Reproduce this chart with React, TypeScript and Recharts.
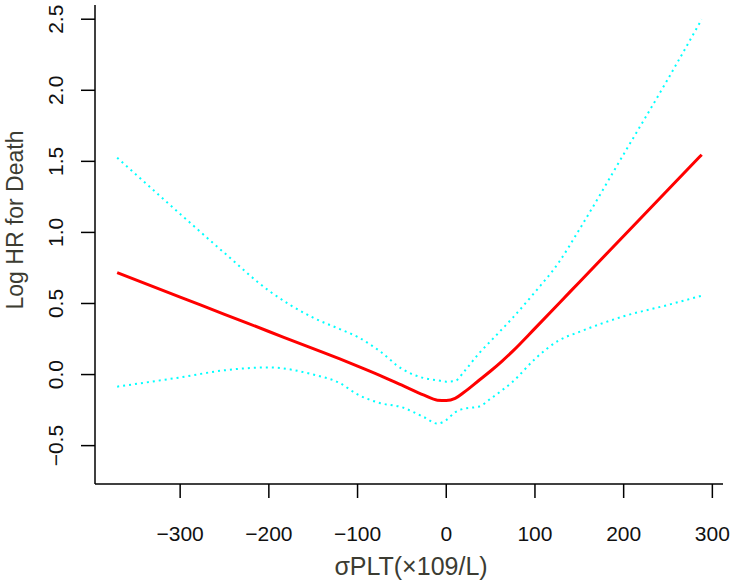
import React from "react"
import { LineChart, Line, XAxis, YAxis } from "recharts"

const xs = [-371, -300, -250, -200, -150, -120, -100, -75, -50, -25, -10, 0, 10, 20, 37, 50, 63, 75, 100, 127, 150, 200, 250, 288]

// log HR estimate
const fit = [0.717, 0.545, 0.424, 0.303, 0.182, 0.11, 0.06, -0.005, -0.075, -0.145, -0.18, -0.183, -0.168, -0.125, -0.04, 0.025, 0.095, 0.165, 0.325, 0.5, 0.65, 0.975, 1.3, 1.547]

// 95% CI bounds
const upper = [1.526, 1.13, 0.855, 0.59, 0.4, 0.32, 0.265, 0.165, 0.04, -0.025, -0.04, -0.05, -0.045, 0.02, 0.15, 0.235, 0.32, 0.4, 0.58, 0.79, 1.02, 1.55, 2.08, 2.5]
const lower = [-0.085, -0.02, 0.03, 0.05, 0.0, -0.06, -0.14, -0.2, -0.23, -0.3, -0.345, -0.32, -0.265, -0.24, -0.225, -0.17, -0.11, -0.05, 0.11, 0.24, 0.3, 0.41, 0.49, 0.555]

const xTicks = [-300, -200, -100, 0, 100, 200, 300]
const yTicks = [-0.5, 0, 0.5, 1, 1.5, 2, 2.5]

const font = "'Liberation Sans', Arial, sans-serif"
const minus = (s: string) => s.replace("-", "\u2212")

const YTick = (props: any) => {
  const { x, y, payload } = props
  return (
    <g transform={`translate(${x},${y}) rotate(-90)`}>
      <text textAnchor="middle" fontSize={21} fill="#111" fontFamily={font}>
        {minus(payload.value.toFixed(1))}
      </text>
    </g>
  )
}

export default function App() {
  const data = xs.map((x, i) => ({ x, fit: fit[i], upper: upper[i], lower: lower[i] }))

  return (
    <div style={{ position: "absolute", left: 0, top: 0, background: "#fff" }}>
      <LineChart
        width={735}
        height={584}
        data={data}
        margin={{ top: 5, right: 12, bottom: 0, left: 0 }}
        style={{ fontFamily: font }}
      >
        <XAxis
          type="number"
          dataKey="x"
          domain={[-396, 312]}
          ticks={xTicks}
          allowDataOverflow
          height={100}
          tickSize={14}
          tickMargin={28}
          stroke="#000"
          strokeWidth={1.5}
          tick={{ fontSize: 21, fill: "#111", fontFamily: font }}
          tickFormatter={(v: number) => minus(String(v))}
          label={{
            content: () => (
              <text x={411} y={575} textAnchor="middle" fontSize={25} fill="#3c3c32" fontFamily={font}>
                σPLT(×109/L)
              </text>
            ),
          }}
        />
        <YAxis
          type="number"
          domain={[-0.77, 2.6]}
          ticks={yTicks}
          allowDataOverflow
          width={95}
          tickSize={14}
          tickMargin={18}
          stroke="#000"
          strokeWidth={1.5}
          tick={<YTick />}
          label={{
            content: () => (
              <text
                transform="translate(23,220) rotate(-90)"
                textAnchor="middle"
                fontSize={23}
                fill="#3c3c32"
                fontFamily={font}
              >
                Log HR for Death
              </text>
            ),
          }}
        />
        <Line
          type="monotone"
          dataKey="upper"
          stroke="#00FFFF"
          strokeWidth={2}
          strokeDasharray="2 4"
          dot={false}
          isAnimationActive={false}
        />
        <Line
          type="monotone"
          dataKey="lower"
          stroke="#00FFFF"
          strokeWidth={2}
          strokeDasharray="2 4"
          dot={false}
          isAnimationActive={false}
        />
        <Line
          type="monotone"
          dataKey="fit"
          stroke="#FF0000"
          strokeWidth={3}
          dot={false}
          isAnimationActive={false}
        />
      </LineChart>
    </div>
  )
}
